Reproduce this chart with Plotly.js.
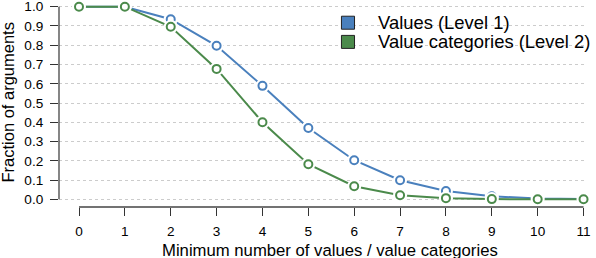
<!DOCTYPE html>
<html>
<head>
<meta charset="utf-8">
<script src="https://cdn.plot.ly/plotly-3.0.1.min.js"></script>
<style>html,body{margin:0;padding:0;background:#fff;}#chart{width:596px;height:258px;}</style>
</head>
<body>
<div id="chart"></div>
<script>
// ---- data ----
const minValues = [0, 1, 2, 3, 4, 5, 6, 7, 8, 9, 10, 11];
const valuesLevel1 = [1.0, 1.0, 0.935, 0.797, 0.589, 0.370, 0.203, 0.099, 0.043, 0.016, 0.004, 0.001];
const valueCategoriesLevel2 = [1.0, 1.0, 0.896, 0.677, 0.400, 0.182, 0.068, 0.021, 0.006, 0.001, 0.0, 0.0];
const seriesNames = ["Values (Level 1)", "Value categories (Level 2)"];
const seriesColors = ["#4a80bd", "#4b8a4b"];
const yTicks = [0, 0.1, 0.2, 0.3, 0.4, 0.5, 0.6, 0.7, 0.8, 0.9, 1.0];
const yTickLabels = ["0.0","0.1","0.2","0.3","0.4","0.5","0.6","0.7","0.8","0.9","1.0"];
const xTicks = minValues;
const xTickLabels = minValues.map(String);
const xTitle = "Minimum number of values / value categories";
const yTitle = "Fraction of arguments";

const FONT = "Liberation Sans, Arial, Helvetica, sans-serif";
const seriesData = [valuesLevel1, valueCategoriesLevel2];

const traces = [];
seriesData.forEach((ys, i) => {
  traces.push({x: minValues, y: ys, mode: 'lines', line: {color: seriesColors[i], width: 2},
    showlegend: false, hoverinfo: 'skip', cliponaxis: false});
  traces.push({x: minValues, y: ys, mode: 'markers', marker: {symbol: 'circle', size: 14, color: '#ffffff', line: {width: 0}},
    showlegend: false, hoverinfo: 'skip', cliponaxis: false});
  traces.push({x: minValues, y: ys, mode: 'markers', name: seriesNames[i],
    marker: {symbol: 'circle', size: 8, color: '#ffffff', line: {color: seriesColors[i], width: 2}},
    showlegend: false, cliponaxis: false});
});

const shapes = [
  {type: 'line', xref: 'x', yref: 'paper', x0: xTicks[0], x1: xTicks[xTicks.length-1], y0: 0, y1: 0, line: {color: '#444', width: 1.3}},
  {type: 'line', xref: 'paper', yref: 'y', x0: 0, x1: 0, y0: yTicks[0], y1: yTicks[yTicks.length-1], line: {color: '#444', width: 1.3}}
];
const annotations = [
  {xref: 'paper', yref: 'paper', x: 0.5171, y: -0.2125, xanchor: 'center', yanchor: 'middle', showarrow: false,
    text: xTitle, font: {family: FONT, size: 16.7, color: '#000'}},
  {xref: 'paper', yref: 'paper', x: -0.099, y: 0.5048, xanchor: 'center', yanchor: 'middle', showarrow: false, textangle: -90,
    text: yTitle, font: {family: FONT, size: 16.5, color: '#000'}}
];
const legY = [0.8903, 0.7976];
seriesNames.forEach((n, i) => {
  const hy = 13 / 207 / 2;
  shapes.push({type: 'rect', xref: 'paper', yref: 'paper', x0: 0.538, x1: 0.5629, y0: legY[i] - hy, y1: legY[i] + hy,
    fillcolor: seriesColors[i], line: {color: '#222', width: 1}});
  annotations.push({xref: 'paper', yref: 'paper', x: 0.6038, y: legY[i], xanchor: 'left', yanchor: 'middle',
    text: n, showarrow: false, font: {family: FONT, size: 18.4, color: '#000'}});
});

const layout = {
  width: 596, height: 258,
  margin: {l: 59, r: 12, t: 0, b: 51},
  paper_bgcolor: '#fff', plot_bgcolor: '#fff',
  font: {family: FONT, color: '#000'},
  xaxis: {range: [-0.436, 11.01], tickvals: xTicks, ticktext: xTickLabels, ticks: 'outside', ticklen: 8, tickwidth: 1, tickcolor: '#333',
    showgrid: false, zeroline: false, showline: false, tickfont: {size: 13.6, family: FONT}, ticklabeloverflow: 'allow',
    ticklabelstandoff: 4},
  yaxis: {range: [-0.04, 1.0348], tickvals: yTicks, ticktext: yTickLabels, ticks: 'outside', ticklen: 8, tickwidth: 1, tickcolor: '#333',
    showgrid: true, gridcolor: '#cccccc', griddash: 'dot', gridwidth: 1, zeroline: false, showline: false,
    tickfont: {size: 13.6, family: FONT}, ticklabeloverflow: 'allow', ticklabelstandoff: 4},
  shapes: shapes,
  annotations: annotations,
  showlegend: false
};

Plotly.newPlot('chart', traces, layout, {staticPlot: true, displayModeBar: false});
</script>
</body>
</html>
